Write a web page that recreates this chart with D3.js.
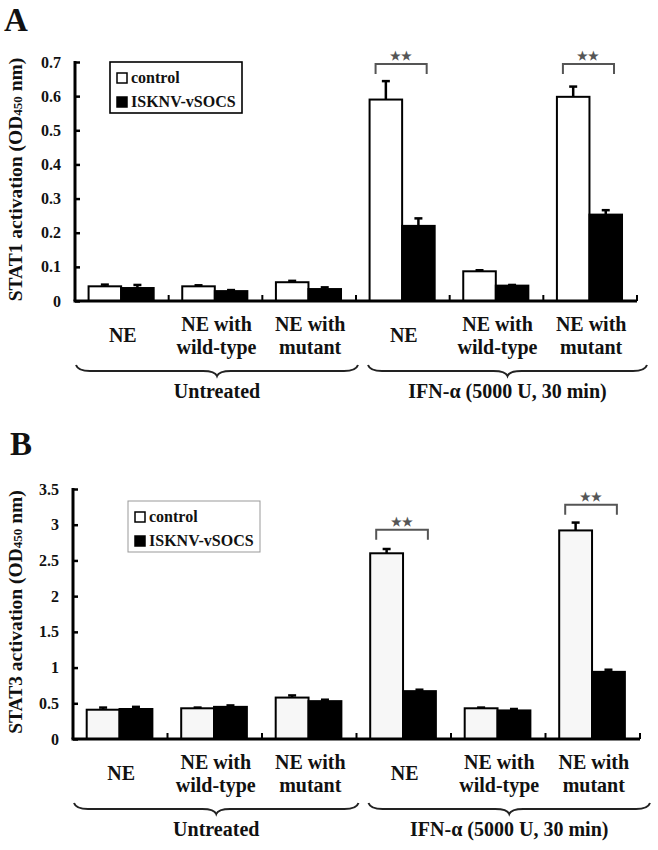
<!DOCTYPE html>
<html>
<head>
<meta charset="utf-8">
<script src="https://cdn.jsdelivr.net/npm/d3@7/dist/d3.min.js"></script>
<style>
  html, body { margin: 0; padding: 0; background: #fff; }
  svg { display: block; }
  text { font-family: "Liberation Serif", "Times New Roman", serif; font-weight: bold; fill: #111; }
</style>
</head>
<body>
<svg id="chart" width="658" height="850"></svg>
<script>
// ---------- data ----------
const categories = ["NE", "NE with|wild-type", "NE with|mutant", "NE", "NE with|wild-type", "NE with|mutant"];
const groups = ["Untreated", "IFN-α (5000 U, 30 min)"];
const seriesNames = ["control", "ISKNV-vSOCS"];

const stat1Control    = [0.043, 0.043, 0.055, 0.590, 0.087, 0.598];
const stat1ControlErr = [0.005, 0.003, 0.004, 0.054, 0.003, 0.030];
const stat1Vsocs      = [0.038, 0.029, 0.035, 0.220, 0.045, 0.253];
const stat1VsocsErr   = [0.009, 0.003, 0.005, 0.022, 0.002, 0.013];

const stat3Control    = [0.41, 0.43, 0.58, 2.60, 0.43, 2.92];
const stat3ControlErr = [0.03, 0.01, 0.03, 0.06, 0.01, 0.11];
const stat3Vsocs      = [0.42, 0.45, 0.53, 0.67, 0.40, 0.94];
const stat3VsocsErr   = [0.03, 0.02, 0.02, 0.02, 0.02, 0.03];

const stat1Ticks = [0, 0.1, 0.2, 0.3, 0.4, 0.5, 0.6, 0.7];
const stat1TickLabels = ["0", "0.1", "0.2", "0.3", "0.4", "0.5", "0.6", "0.7"];
const stat3Ticks = [0, 0.5, 1, 1.5, 2, 2.5, 3, 3.5];
const stat3TickLabels = ["0", "0.5", "1", "1.5", "2", "2.5", "3", "3.5"];

const stat1SigCats = [3, 5];
const stat1SigLevels = [0.694, 0.694];
const stat3SigCats = [3, 5];
const stat3SigLevels = [2.93, 3.28];
const sigText = "★★";

// ---------- drawing ----------
const svg = d3.select("#chart");

function brace(x1, x2, y, h) {
  const mid = (x1 + x2) / 2, q = 14, yb = y + h * 0.45;
  return `M${x1},${y - 2} Q${x1 + 2},${yb} ${x1 + q},${yb} L${mid - q},${yb} Q${mid - 2},${yb} ${mid},${y + h} ` +
         `Q${mid + 2},${yb} ${mid + q},${yb} L${x2 - q},${yb} Q${x2 - 2},${yb} ${x2},${y - 2}`;
}

function panel(cfg) {
  const g = svg.append("g");
  const x = d3.scaleBand().domain(d3.range(categories.length)).range([cfg.x0, cfg.x1]).paddingInner(0).paddingOuter(0);
  const w = x.bandwidth();
  const xs = d3.scaleBand().domain([0, 1]).range([w * 0.145, w * 0.84]).padding(0);
  const bw = xs.bandwidth();
  const y = d3.scaleLinear().domain([0, cfg.yMax]).range([cfg.bottom, cfg.top]);

  // panel letter
  g.append("text").attr("x", cfg.letterX).attr("y", cfg.letterY).attr("font-size", 33).text(cfg.letter);

  // y axis title
  const t = g.append("text")
    .attr("transform", `translate(${cfg.titleX},${(cfg.top + cfg.bottom) / 2 - 2}) rotate(-90)`)
    .attr("text-anchor", "middle").attr("font-size", 19.5);
  t.append("tspan").text(cfg.titlePrefix + " activation (OD");
  t.append("tspan").attr("font-size", 13).text("450");
  t.append("tspan").text(" nm)");

  // y axis
  const yAxis = d3.axisLeft(y).tickValues(cfg.ticks).tickFormat((d, i) => cfg.tickLabels[i])
    .tickSizeInner(-5).tickSizeOuter(0).tickPadding(14);
  const ya = g.append("g").attr("transform", `translate(${cfg.x0},0)`).call(yAxis);
  ya.select(".domain").attr("stroke", "#000").attr("stroke-width", 3)
    .attr("d", `M0,${cfg.top - 1}V${cfg.bottom}`);
  ya.selectAll(".tick line").attr("stroke", "#000").attr("stroke-width", 2.5);
  ya.selectAll(".tick text").attr("font-size", 16).attr("font-family", "Liberation Serif, serif")
    .attr("font-weight", "bold").attr("fill", "#111");

  // bars
  const series = [
    { vals: cfg.control, errs: cfg.controlErr, fill: cfg.controlFill },
    { vals: cfg.vsocs, errs: cfg.vsocsErr, fill: "#000" }
  ];
  series.forEach((s, si) => {
    const bars = g.append("g");
    bars.selectAll("line.err").data(s.vals).join("line")
      .attr("x1", (d, i) => x(i) + xs(si) + bw / 2).attr("x2", (d, i) => x(i) + xs(si) + bw / 2)
      .attr("y1", d => y(d)).attr("y2", (d, i) => y(d + s.errs[i]))
      .attr("stroke", "#000").attr("stroke-width", 2.5);
    bars.selectAll("line.cap").data(s.vals).join("line")
      .attr("x1", (d, i) => x(i) + xs(si) + bw / 2 - 4).attr("x2", (d, i) => x(i) + xs(si) + bw / 2 + 4)
      .attr("y1", (d, i) => y(d + s.errs[i])).attr("y2", (d, i) => y(d + s.errs[i]))
      .attr("stroke", "#000").attr("stroke-width", 2.5);
    bars.selectAll("rect").data(s.vals).join("rect")
      .attr("x", (d, i) => x(i) + xs(si)).attr("width", bw)
      .attr("y", d => y(d)).attr("height", d => cfg.bottom - y(d))
      .attr("fill", s.fill).attr("stroke", "#000").attr("stroke-width", 2);
  });

  // x axis baseline and separator ticks
  g.append("line").attr("x1", cfg.x0 - 1.5).attr("x2", cfg.x1).attr("y1", cfg.bottom).attr("y2", cfg.bottom)
    .attr("stroke", "#000").attr("stroke-width", 3);
  g.selectAll("line.sep").data(d3.range(1, categories.length + 1)).join("line")
    .attr("x1", i => cfg.x0 + i * w).attr("x2", i => cfg.x0 + i * w)
    .attr("y1", cfg.bottom).attr("y2", cfg.bottom - 6)
    .attr("stroke", "#000").attr("stroke-width", 2);

  // category labels
  categories.forEach((c, i) => {
    const lines = c.split("|");
    const cx = x(i) + w / 2 + 1;
    if (lines.length === 1) {
      g.append("text").attr("x", cx).attr("y", cfg.bottom + 41).attr("text-anchor", "middle").attr("font-size", 20).text(lines[0]);
    } else {
      lines.forEach((l, li) => {
        g.append("text").attr("x", cx).attr("y", cfg.bottom + 30 + li * 23).attr("text-anchor", "middle").attr("font-size", 20).text(l);
      });
    }
  });

  // group braces
  groups.forEach((gr, gi) => {
    const xa = gi === 0 ? cfg.x0 + 1 : x(3) + 12;
    const xb = gi === 0 ? x(2) + w + 2 : x(5) + w + 10;
    g.append("path").attr("d", brace(xa, xb, cfg.bottom + 66, 9))
      .attr("fill", "none").attr("stroke", "#222").attr("stroke-width", 2);
    g.append("text").attr("x", (xa + xb) / 2).attr("y", cfg.bottom + 97).attr("text-anchor", "middle")
      .attr("font-size", 20).text(gr);
  });

  // significance brackets
  cfg.sigCats.forEach((ci, k) => {
    const lx = x(ci) + xs(0) + 6, rx = x(ci) + xs(1) + bw - 8, ly = y(cfg.sigLevels[k]);
    g.append("path").attr("d", `M${lx},${ly + 10}V${ly}H${rx}V${ly + 10}`)
      .attr("fill", "none").attr("stroke", "#555").attr("stroke-width", 2);
    g.append("text").attr("x", (lx + rx) / 2).attr("y", ly - 4).attr("text-anchor", "middle")
      .attr("font-family", "DejaVu Sans, sans-serif").attr("font-size", 12).style("fill", "#555")
      .attr("letter-spacing", 0).text(sigText);
  });

  // legend
  const lg = g.append("g").attr("transform", `translate(${cfg.legX},${cfg.legY})`);
  lg.append("rect").attr("width", 132).attr("height", 51).attr("fill", "#fff")
    .attr("stroke", cfg.legStroke).attr("stroke-width", cfg.legStrokeW);
  seriesNames.forEach((n, i) => {
    lg.append("rect").attr("x", 7).attr("y", 11 + i * 24).attr("width", 10).attr("height", 10)
      .attr("fill", i === 0 ? "#fff" : "#000").attr("stroke", "#000").attr("stroke-width", 1.5);
    lg.append("text").attr("x", 21).attr("y", 21 + i * 24).attr("font-size", 16).text(n);
  });
}

panel({
  letter: "A", letterX: 4, letterY: 31,
  titlePrefix: "STAT1", titleX: 22,
  x0: 75, x1: 637, top: 62, bottom: 301, yMax: 0.7,
  ticks: stat1Ticks, tickLabels: stat1TickLabels,
  control: stat1Control, controlErr: stat1ControlErr, vsocs: stat1Vsocs, vsocsErr: stat1VsocsErr,
  controlFill: "#fff",
  sigCats: stat1SigCats, sigLevels: stat1SigLevels,
  legX: 110, legY: 62, legStroke: "#000", legStrokeW: 1.6
});

panel({
  letter: "B", letterX: 10, letterY: 455,
  titlePrefix: "STAT3", titleX: 22,
  x0: 73, x1: 640, top: 489, bottom: 739, yMax: 3.5,
  ticks: stat3Ticks, tickLabels: stat3TickLabels,
  control: stat3Control, controlErr: stat3ControlErr, vsocs: stat3Vsocs, vsocsErr: stat3VsocsErr,
  controlFill: "#f7f7f7",
  sigCats: stat3SigCats, sigLevels: stat3SigLevels,
  legX: 128, legY: 501, legStroke: "#999", legStrokeW: 1
});
</script>
</body>
</html>
